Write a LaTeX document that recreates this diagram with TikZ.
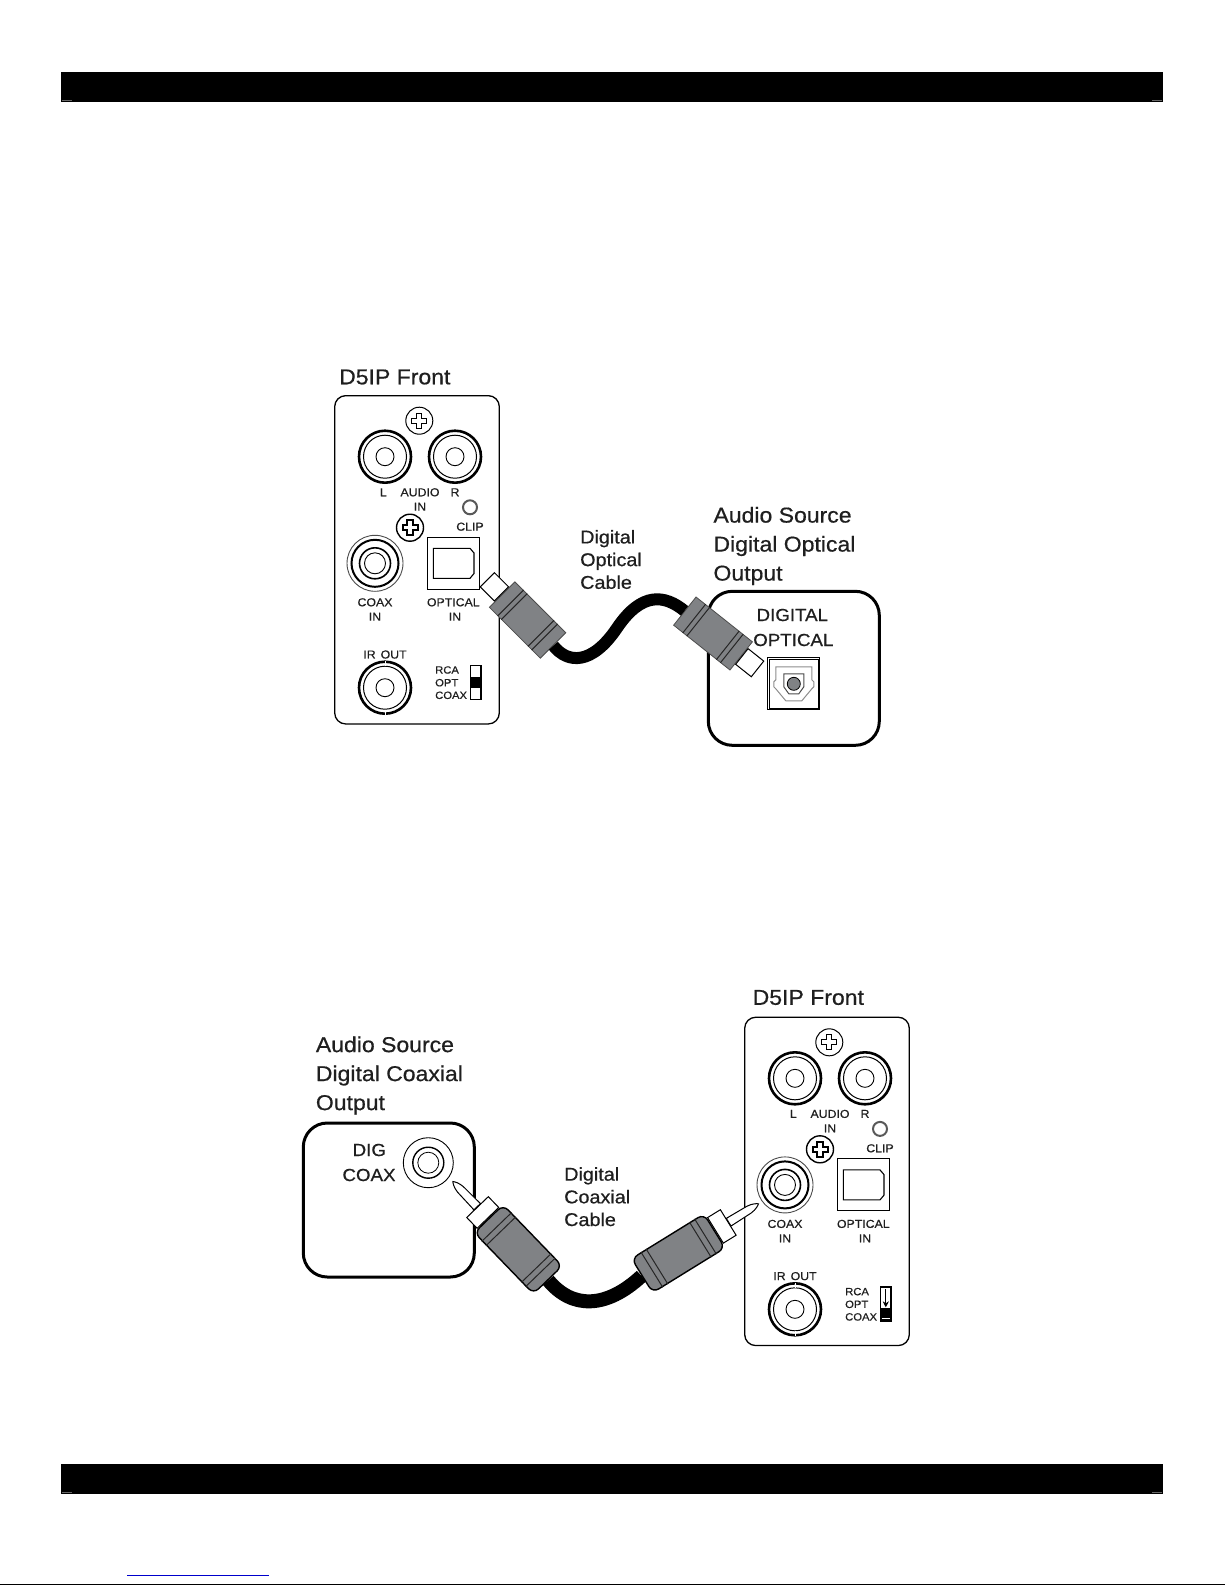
\documentclass[tikz,border=0pt]{standalone}
\usepackage{fontspec}
\setmainfont{Liberation Sans}[FakeBold=0.6, FakeStretch=1.07]
\usetikzlibrary{calc,arrows.meta}

\definecolor{plugGray}{HTML}{808285}
\definecolor{inkGray}{HTML}{1F1F1F}

\tikzset{
    bigtext/.style={font=\fontsize{21.5}{29}\selectfont, align=left, inner sep=0, anchor=west, text=inkGray},
    cabletext/.style={font=\fontsize{18.5}{22.7}\selectfont, align=left, inner sep=0, anchor=west, text=inkGray},
    boxtext/.style={font=\fontsize{17.5}{17.5}\selectfont, inner sep=0, text=inkGray},
    smalltext/.style={font=\fontsize{11.5}{11.5}\selectfont, inner sep=0, text=inkGray},
    tinytext/.style={font=\fontsize{10.5}{10.5}\selectfont, inner sep=0, text=inkGray},
    ring/.style={circle, draw, fill=white, inner sep=0, minimum size=#1},
    panelbox/.style={draw, line width=1.3, rounded corners=11, inner sep=0, minimum width=164.6, minimum height=328.3},
    sourcebox/.style={draw, line width=3, rounded corners=24, inner sep=0, minimum width=171, minimum height=154},
    plugbody/.style={draw=black!70, line width=.8, fill=plugGray, inner sep=0, minimum width=72, minimum height=36},
    rcabody/.style={draw=black, line width=1.4, fill=plugGray, rounded corners=7, inner sep=0, minimum width=85, minimum height=40},
    plugtip/.style={draw=black, line width=1, fill=white, inner sep=0, minimum width=20, minimum height=20},
    cable/.style={line width=12, black},
    blackbar/.style={fill=black, inner sep=0, minimum width=1102, minimum height=30},
    barmark/.style={line width=1, black!60},
}

% plus sign of a panel screw, centred on a node
\newcommand{\screwplus}[2]{%
    \draw[line width=#2, fill=white, shift={(#1)}] (-2.6,-7.5) -- (2.6,-7.5) -- (2.6,-2.6) -- (7.5,-2.6) -- (7.5,2.6) -- (2.6,2.6) -- (2.6,7.5) -- (-2.6,7.5) -- (-2.6,2.6) -- (-7.5,2.6) -- (-7.5,-2.6) -- (-2.6,-2.6) -- cycle;
}
% cross lines on a plug body
\newcommand{\plugstripes}[2]{%
    \foreach \f in {#2} {
        \draw[line width=1, black!85] ($(#1.north west)!\f!(#1.north east)$) -- ($(#1.south west)!\f!(#1.south east)$);
    }
}
% centre pin of an RCA plug
\newcommand{\rcapin}[2]{%
    \draw[line width=1, fill=white, shift={(#1)}, rotate=#2] (0,-4.5) -- (24,-4) .. controls (30,-3.5) and (34,-1) .. (35,0) .. controls (34,1) and (30,3.5) .. (24,4) -- (0,4.5) -- cycle;
}
% D5IP front panel, #1 = what is drawn in the slide switch
\newcommand{\frontpanel}[1]{%
    \node[panelbox] (panel) at (417,559.8) {};

    \node[ring=27, line width=1] (screwtop) at (419.3,420.7) {};
    \screwplus{screwtop}{.9}
    \node[ring=27, line width=1.4] (screwmid) at (410,527.7) {};
    \screwplus{screwmid}{2}

    % audio jacks
    \foreach \n/\x in {left/385,right/455} {
        \node[ring=52, line width=2.6] (\n) at (\x,456.7) {};
        \node[ring=43, line width=1] at (\n) {};
        \node[ring=18, line width=.9] at (\n) {};
    }
    \node[smalltext] (lbll) at (383.3,492.3) {L};
    \node[smalltext] (lblaudio) at (420,492.3) {AUDIO};
    \node[smalltext] (lblr) at (455,492.3) {R};
    \node[smalltext] (lblin) at (420,506.7) {IN};
    \node[ring=14, line width=2, draw=black!65] (clip) at (470,507.3) {};
    \node[smalltext] (lblclip) at (470,526.7) {CLIP};

    % coax in
    \node[ring=56, line width=.9, draw=black!70] (coax) at (375,563.3) {};
    \node[ring=47, line width=2] at (coax) {};
    \node[ring=31, line width=1.6] at (coax) {};
    \node[ring=21, line width=.9] at (coax) {};
    \node[smalltext] (lblcoax) at (375,602.3) {COAX};
    \node[smalltext] (lblcoaxin) at (375,616.7) {IN};

    % optical in
    \node[draw, line width=1, inner sep=0, minimum size=52] (optical) at (453.3,563.3) {};
    \draw[line width=1.1] (433.3,548.3) -- (470,548.3) -- (474,553) -- (474,573.5) -- (470,578.3) -- (433.3,578.3) -- cycle;
    \node[smalltext] (lbloptical) at (453.3,602.3) {OPTICAL};
    \node[smalltext] (lblopticalin) at (455,616.7) {IN};

    % ir out
    \node[smalltext] (lblir) at (385,654.5) {IR\hspace{5pt}OUT};
    \node[ring=52, line width=2.6] (irout) at (385,687.7) {};
    \node[ring=43, line width=1] at (irout) {};
    \node[ring=18, line width=.9] at (irout) {};
    \draw[white, line width=1] (385,661) -- (385,666);
    \draw[white, line width=1] (385,709.5) -- (385,714.5);

    % slide switch
    \node[tinytext, anchor=west] (lblrca) at (435,670) {RCA};
    \node[tinytext, anchor=west] (lblopt) at (435,682.7) {OPT};
    \node[tinytext, anchor=west] (lblsw) at (435,695.3) {COAX};
    \node[draw, line width=1.5, inner sep=0, minimum width=10.5, minimum height=34] (switch) at (475.8,682.5) {};
    #1
}

\begin{document}
\begin{tikzpicture}[x=1pt, y=-1pt]
    \useasboundingbox (0,0) rectangle (1225,1585);

    % page bars
    \node[blackbar] (topbar) at (612,87) {};
    \node[blackbar] (bottombar) at (612,1479) {};
    \foreach \b in {topbar,bottombar} {
        \draw[barmark] ($(\b.south west)+(1.5,-1.5)$) -- ++(10,0);
        \draw[barmark] ($(\b.south east)+(-1.5,-1.5)$) -- ++(-10,0);
    }
    \draw[blue!80!black, line width=1] (127,1575) -- (269,1575);
    \draw[black, line width=1.2] (0,1584.5) -- (1225,1584.5);

    % optical hookup
    \node[bigtext] (titleopt) at (339,377) {D5IP Front};
    \begin{scope}[name prefix=opt-]
        \frontpanel{\fill ($(switch.north west)!.34!(switch.south west)$) rectangle ($(switch.north east)!.66!(switch.south east)$);}
    \end{scope}

    \node[bigtext] (srcopt) at (713.3,546) {Audio Source\\Digital Optical\\Output};
    \node[cabletext] (lblcableopt) at (580,559.5) {Digital\\Optical\\Cable};
    \node[sourcebox] (srcoptbox) at (793.8,668.3) {};
    \node[boxtext] (dig) at (792.3,615) {DIGITAL};
    \node[boxtext] (opt) at (793.3,640) {OPTICAL};

    % optical port on the source
    \node[draw, line width=.9, inner sep=0, minimum size=52] (port) at (793.8,683.8) {};
    \node[draw, line width=1.1, inner sep=0, minimum size=48.5] at (port) {};
    \draw[black!45, line width=1, fill=white, shift={(port)}] (-18,-17) -- (18,-17) -- (18,-4) -- (20,-2) -- (20,3) -- (18,5) -- (8,17) -- (-8,17) -- (-18,5) -- (-20,3) -- (-20,-2) -- (-18,-4) -- cycle;
    \draw[black!70, line width=1, shift={(port)}] (-10,-10) -- (10,-10) -- (10,3) -- (5,10) -- (-5,10) -- (-10,3) -- cycle;
    \node[ring=13, line width=.8, fill=plugGray] at (port) {};

    % optical cable and plugs
    \node[plugbody, rotate=-45] (plugA) at (527.6,620) {};
    \node[plugtip, rotate=-45, anchor=east] (tipA) at (plugA.west) {};
    \node[plugbody, rotate=-38.5] (plugB) at (713,633.5) {};
    \node[plugtip, rotate=-38.5, anchor=west] (tipB) at (plugB.east) {};
    \coordinate (cableAmid) at (617,628);
    \draw[cable] (plugA.east) .. controls (568,664) and (592,665) .. (cableAmid) .. controls (642,591) and (665,595) .. (plugB.west);
    \plugstripes{plugA}{.17,.24,.76,.83}
    \plugstripes{plugB}{.17,.24,.76,.83}

    % coaxial hookup
    \node[bigtext] (titlecox) at (752.5,997.5) {D5IP Front};
    \begin{scope}[name prefix=cox-, shift={(410,621.6)}]
        \frontpanel{\fill ($(switch.north west)!.62!(switch.south west)$) rectangle (switch.south east);
            \draw[white, line width=1] ($(switch.south west)!.15!(switch.south east)+(0,-3)$) -- ($(switch.south east)!.15!(switch.south west)+(0,-3)$);
            \draw[line width=.8, -{Stealth[length=6pt,width=6pt]}] ($(switch.north)+(0,3)$) -- ($(switch.north)+(0,21)$);}
    \end{scope}

    \node[bigtext] (srccox) at (315.7,1075.5) {Audio Source\\Digital Coaxial\\Output};
    \node[cabletext] (lblcablecox) at (564,1196.7) {Digital\\Coaxial\\Cable};
    \node[sourcebox] (srccoxbox) at (388.8,1200) {};
    \node[boxtext] (digc) at (369.3,1150) {DIG};
    \node[boxtext] (coaxc) at (369,1175) {COAX};

    % coax jack on the source
    \node[ring=50, line width=.9] (srcjack) at (428.3,1162.7) {};
    \node[ring=31, line width=1.4] at (srcjack) {};
    \node[ring=21, line width=.8] at (srcjack) {};

    % coaxial cable and plugs
    \node[rcabody, rotate=-46] (plugC) at (518.3,1249.3) {};
    \node[plugtip, rotate=-46, anchor=east, minimum width=15, minimum height=30] (collarC) at (plugC.west) {};
    \node[rcabody, rotate=31.7] (plugD) at (678.3,1253.3) {};
    \node[plugtip, rotate=31.7, anchor=west, minimum width=15, minimum height=30] (collarD) at (plugD.east) {};
    \rcapin{collarC.west}{134}
    \rcapin{collarD.east}{31.7}
    \draw[cable, line width=14] (plugC.east) .. controls (572,1309) and (606,1309) .. (plugD.west);
    \plugstripes{plugC}{.14,.21,.80,.87}
    \plugstripes{plugD}{.14,.21,.80,.87}
\end{tikzpicture}
\end{document}
